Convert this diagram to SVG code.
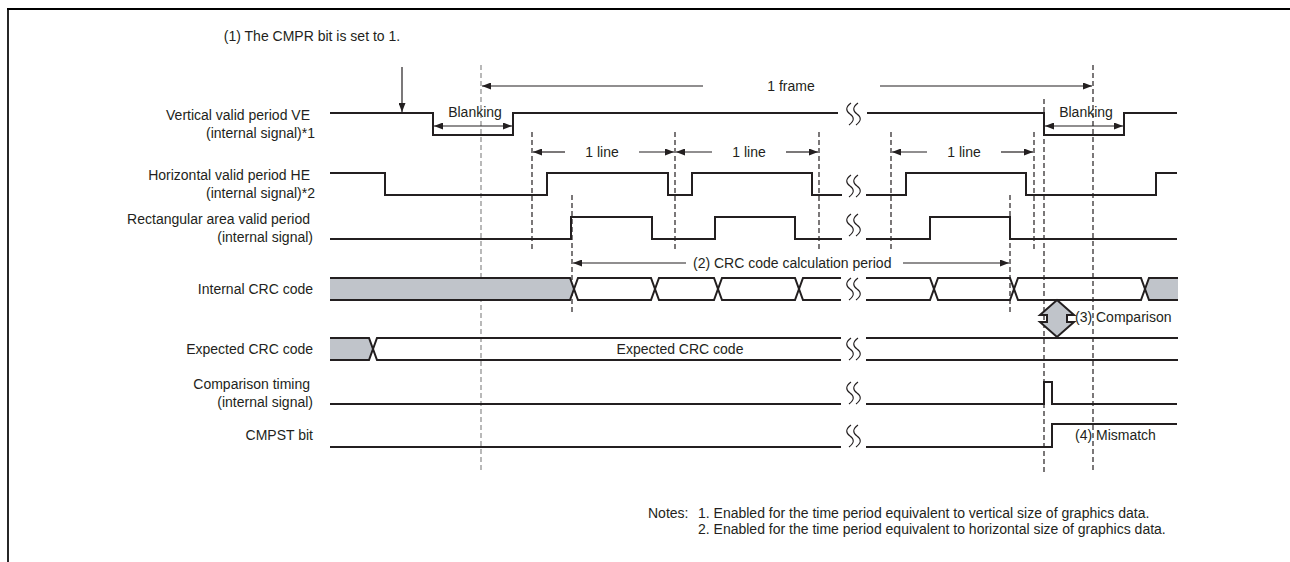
<svg xmlns="http://www.w3.org/2000/svg" width="1290" height="562" viewBox="0 0 1290 562">
<defs>
<marker id="ah" markerUnits="userSpaceOnUse" markerWidth="9" markerHeight="7" refX="9" refY="3.5" orient="auto-start-reverse"><path d="M0,0 L9,3.5 L0,7 z" fill="#231f20"/></marker>
<path id="brk" d="M-3,-11 Q-11,-5 -4,0 Q3,5 -5,11 M4,-11 Q-4,-5 3,0 Q10,5 2,11" fill="none" stroke="#231f20" stroke-width="1.1"/>
</defs>
<style>
text{font-family:"Liberation Sans",Arial,Helvetica,sans-serif;font-size:14px;fill:#231f20}
.lbl{text-anchor:end}
.mid{text-anchor:middle}
.sig{fill:none;stroke:#231f20;stroke-width:2}
.gray{fill:#c0c4ca;stroke:none}
.dash{fill:none;stroke:#231f20;stroke-width:1.2;stroke-dasharray:5 3}
.dashg{stroke:#8a8a8a}
.dim{fill:none;stroke:#231f20;stroke-width:1.2}
.frame{fill:none;stroke:#000}
</style>
<rect width="1290" height="562" fill="#fff"/>
<path class="frame" d="M7,9 H1290" stroke-width="2"/>
<path class="frame" d="M8,8 V562" stroke-width="1.7"/>

<g id="connectors">
  <path class="dash dashg" d="M481,65 V473"/>
  <path class="dash" d="M532,132 V251"/>
  <path class="dash" d="M572,195 V315"/>
  <path class="dash" d="M675,132 V251"/>
  <path class="dash" d="M819,132 V251"/>
  <path class="dash" d="M891,132 V251"/>
  <path class="dash" d="M1010,195 V315"/>
  <path class="dash" d="M1034,132 V251"/>
  <path class="dash" d="M1044,99 V473"/>
  <path class="dash" d="M1093,65 V473"/>
  <path class="dim" d="M402,67 V112" marker-end="url(#ah)"/>
  <path class="dim" d="M703,86 H482" marker-end="url(#ah)"/>
  <path class="dim" d="M880,86 H1092" marker-end="url(#ah)"/>
  <path class="dim" d="M434,126 H512" marker-start="url(#ah)" marker-end="url(#ah)"/>
  <path class="dim" d="M1045,126 H1123" marker-start="url(#ah)" marker-end="url(#ah)"/>
  <path class="dim" d="M565,152 H533" marker-end="url(#ah)"/>
  <path class="dim" d="M639,152 H674" marker-end="url(#ah)"/>
  <path class="dim" d="M712,152 H676" marker-end="url(#ah)"/>
  <path class="dim" d="M786,152 H818" marker-end="url(#ah)"/>
  <path class="dim" d="M927,152 H892" marker-end="url(#ah)"/>
  <path class="dim" d="M1001,152 H1033" marker-end="url(#ah)"/>
  <path class="dim" d="M686,263 H573" marker-end="url(#ah)"/>
  <path class="dim" d="M903,263 H1009" marker-end="url(#ah)"/>
  <polygon points="1057,300 1074,315 1067,315 1067,322 1074,322 1057,337 1040,322 1047,322 1047,315 1040,315" fill="#c0c4ca" stroke="#231f20" stroke-width="2" stroke-linejoin="miter"/>
</g>

<g id="annotations">
  <text class="mid" x="312" y="41">(1) The CMPR bit is set to 1.</text>
  <text class="mid" x="791" y="91">1 frame</text>
  <text class="mid" x="475" y="117">Blanking</text>
  <text class="mid" x="1086" y="117">Blanking</text>
  <text class="mid" x="602" y="157">1 line</text>
  <text class="mid" x="749" y="157">1 line</text>
  <text class="mid" x="964" y="157">1 line</text>
  <text x="693" y="268">(2) CRC code calculation period</text>
  <text x="1075" y="322">(3) Comparison</text>
  <text x="1075" y="440">(4) Mismatch</text>
</g>

<g id="ve">
  <text class="lbl" x="310" y="120">Vertical valid period VE</text>
  <text class="lbl" x="315" y="138">(internal signal)*1</text>
  <path class="sig" d="M330,113 H433 V135 H513 V113 H838"/>
  <path class="sig" d="M867,113 H1044 V135 H1124 V113 H1177"/>
  <use href="#brk" x="854" y="114"/>
</g>

<g id="he">
  <text class="lbl" x="310" y="180">Horizontal valid period HE</text>
  <text class="lbl" x="315" y="198">(internal signal)*2</text>
  <path class="sig" d="M330,173 H385 V195 H547 V173 H668 V195 H692 V173 H812 V195 H842"/>
  <path class="sig" d="M866,195 H906 V173 H1026 V195 H1156 V173 H1177"/>
  <use href="#brk" x="854" y="186"/>
</g>

<g id="rect">
  <text class="lbl" x="310" y="224">Rectangular area valid period</text>
  <text class="lbl" x="313" y="242">(internal signal)</text>
  <path class="sig" d="M330,239 H571 V217 H652 V239 H715 V217 H795 V239 H842"/>
  <path class="sig" d="M866,239 H930 V217 H1010 V239 H1177"/>
  <use href="#brk" x="854" y="225"/>
</g>

<g id="internal-crc">
  <text class="lbl" x="313" y="294">Internal CRC code</text>
  <polygon class="gray" points="330,278 570,278 574,289 570,300 330,300"/>
  <polygon class="gray" points="1145,289 1149,278 1178,278 1178,300 1149,300"/>
  <path class="sig" d="M330,278 H570 L578,300 H651 L659,278 H714 L722,300 H795 L803,278 H841"/>
  <path class="sig" d="M330,300 H570 L578,278 H651 L659,300 H714 L722,278 H795 L803,300 H841"/>
  <path class="sig" d="M866,278 H930 L938,300 H1010 L1018,278 H1141 L1149,300 H1178"/>
  <path class="sig" d="M866,300 H930 L938,278 H1010 L1018,300 H1141 L1149,278 H1178"/>
  <use href="#brk" x="854" y="289"/>
</g>

<g id="expected-crc">
  <text class="lbl" x="313" y="354">Expected CRC code</text>
  <polygon class="gray" points="330,338 369,338 373,349 369,360 330,360"/>
  <path class="sig" d="M330,338 H369 L377,360 H841"/>
  <path class="sig" d="M330,360 H369 L377,338 H841"/>
  <path class="sig" d="M866,338 H1178 M866,360 H1178"/>
  <text class="mid" x="680" y="354">Expected CRC code</text>
  <use href="#brk" x="854" y="349"/>
</g>

<g id="comparison-timing">
  <text class="lbl" x="310" y="389">Comparison timing</text>
  <text class="lbl" x="313" y="407">(internal signal)</text>
  <path class="sig" d="M330,404 H841"/>
  <path class="sig" d="M866,404 H1044 V382 H1052 V404 H1177"/>
  <use href="#brk" x="854" y="393"/>
</g>

<g id="cmpst">
  <text class="lbl" x="313" y="440">CMPST bit</text>
  <path class="sig" d="M330,447 H841"/>
  <path class="sig" d="M866,447 H1052 V424 H1177"/>
  <use href="#brk" x="854" y="436"/>
</g>

<g id="notes">
  <text x="648" y="518">Notes:</text>
  <text x="698" y="518">1. Enabled for the time period equivalent to vertical size of graphics data.</text>
  <text x="698" y="534">2. Enabled for the time period equivalent to horizontal size of graphics data.</text>
</g>
</svg>
